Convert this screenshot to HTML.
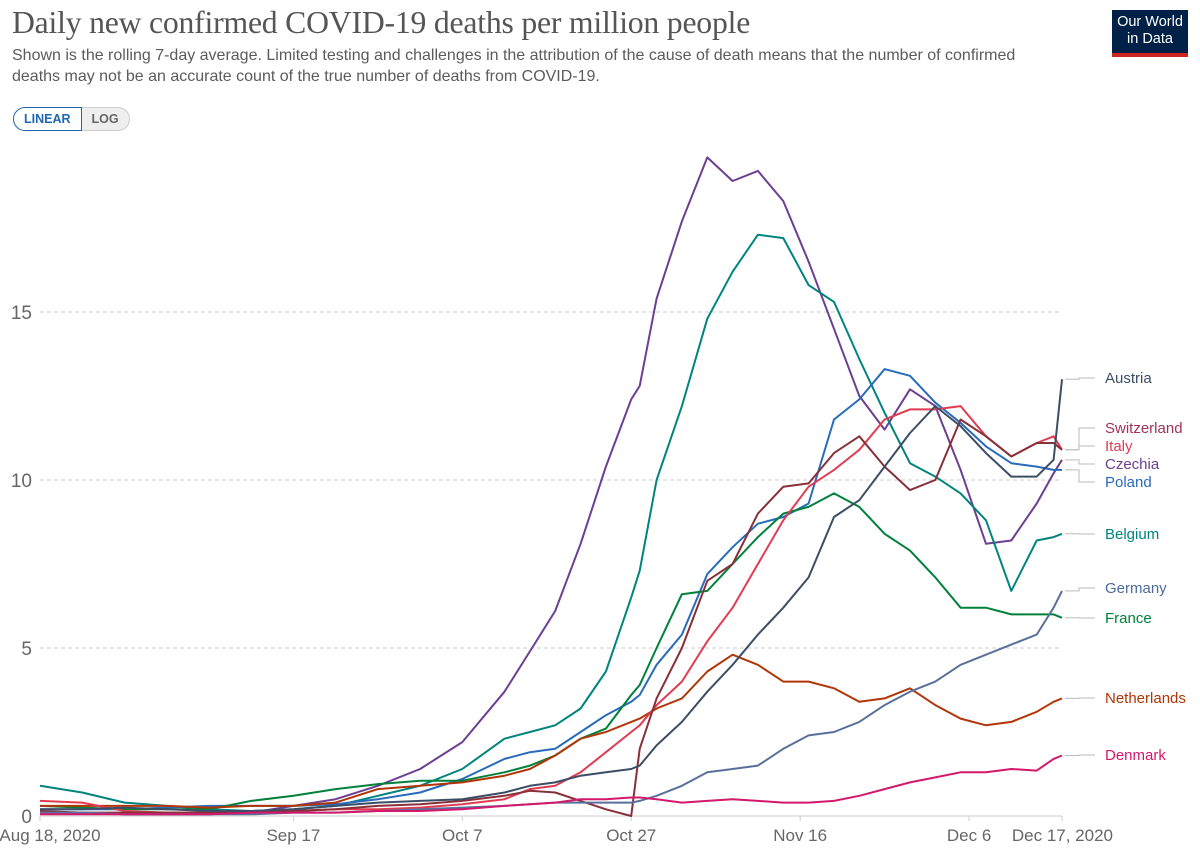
<!DOCTYPE html>
<html><head><meta charset="utf-8">
<style>
body{margin:0;background:#fff;width:1200px;height:862px;overflow:hidden;font-family:"Liberation Sans",sans-serif;position:relative}
#title{position:absolute;left:12px;top:5px;font-family:"Liberation Serif",serif;font-size:31.7px;color:#555;letter-spacing:-0.2px}
#sub{position:absolute;left:12px;top:45px;width:1015px;font-size:16px;line-height:21px;color:#5b5b5b}
#logo{position:absolute;left:1112px;top:10px;width:76px;height:47px;background:#002147;color:#fff;font-size:14.5px;line-height:17px;text-align:center;padding-top:4px;box-sizing:border-box;border-bottom:4px solid #ce261e}
#toggle{position:absolute;left:13px;top:107px;height:24px;display:flex;font-size:12.5px;font-weight:bold}
#toggle div{padding:0 10px;line-height:22px;border:1px solid #ccc}
#lin{color:#1d67b3;border:1.5px solid #1d67b3 !important;border-radius:12px 0 0 12px;background:#fff}
#log{color:#666;background:#eee;border-radius:0 12px 12px 0;border-left:none !important}
svg{position:absolute;left:0;top:0}
</style></head><body>
<div id="title">Daily new confirmed COVID-19 deaths per million people</div>
<div id="sub">Shown is the rolling 7-day average. Limited testing and challenges in the attribution of the cause of death means that the number of confirmed deaths may not be an accurate count of the true number of deaths from COVID-19.</div>
<div id="logo">Our World<br>in Data</div>
<div id="toggle"><div id="lin">LINEAR</div><div id="log">LOG</div></div>
<svg id="chart" width="1200" height="862"></svg>
<script>
const days=[0,5,10,15,20,25,30,35,40,45,50,55,58,61,64,67,70,71,73,76,79,82,85,88,91,94,97,100,103,106,109,112,115,118,120,121];
const xTicks=[0,30,50,70,90,110,121];
const xTickLabels=["Aug 18, 2020","Sep 17","Oct 7","Oct 27","Nov 16","Dec 6","Dec 17, 2020"];
const yTicks=[0,5,10,15];
const countries=["Czechia","Belgium","Poland","France","Netherlands","Italy","Switzerland","Austria","Germany","Denmark"];
const czechia=[0.1,0.1,0.05,0.05,0.05,0.1,0.3,0.5,0.9,1.4,2.2,3.7,4.9,6.1,8.1,10.4,12.4,12.8,15.4,17.7,19.6,18.9,19.2,18.3,16.5,14.5,12.5,11.5,12.7,12.2,10.3,8.1,8.2,9.3,10.2,10.6];
const belgium=[0.9,0.7,0.4,0.3,0.2,0.15,0.2,0.3,0.6,0.9,1.4,2.3,2.5,2.7,3.2,4.3,6.5,7.3,10.0,12.2,14.8,16.2,17.3,17.2,15.8,15.3,13.6,12.0,10.5,10.1,9.6,8.8,6.7,8.2,8.3,8.4];
const poland=[0.2,0.2,0.2,0.25,0.3,0.3,0.3,0.35,0.5,0.7,1.1,1.7,1.9,2.0,2.5,3.0,3.4,3.6,4.5,5.4,7.2,8.0,8.7,8.9,9.3,11.8,12.4,13.3,13.1,12.3,11.7,11.0,10.5,10.4,10.3,10.3];
const france=[0.3,0.25,0.2,0.2,0.2,0.45,0.6,0.8,0.95,1.05,1.05,1.3,1.5,1.8,2.3,2.6,3.6,3.9,5.0,6.6,6.7,7.5,8.3,9.0,9.2,9.6,9.2,8.4,7.9,7.1,6.2,6.2,6.0,6.0,6.0,5.9];
const netherlands=[0.3,0.3,0.3,0.3,0.25,0.3,0.3,0.4,0.8,0.9,1.0,1.2,1.4,1.8,2.3,2.5,2.8,2.9,3.2,3.5,4.3,4.8,4.5,4.0,4.0,3.8,3.4,3.5,3.8,3.3,2.9,2.7,2.8,3.1,3.4,3.5];
const italy=[0.45,0.4,0.15,0.1,0.1,0.1,0.15,0.2,0.2,0.25,0.35,0.5,0.8,0.9,1.3,1.9,2.5,2.7,3.3,4.0,5.2,6.2,7.5,8.8,9.8,10.3,10.9,11.8,12.1,12.1,12.2,11.3,10.7,11.1,11.3,10.9];
const switzerland=[0.15,0.1,0.1,0.1,0.1,0.1,0.15,0.2,0.3,0.35,0.45,0.6,0.75,0.7,0.45,0.2,0.0,2.0,3.5,5.0,7.0,7.5,9.0,9.8,9.9,10.8,11.3,10.4,9.7,10.0,11.8,11.3,10.7,11.1,11.1,10.9];
const austria=[0.2,0.2,0.25,0.2,0.15,0.15,0.2,0.3,0.4,0.45,0.5,0.7,0.9,1.0,1.2,1.3,1.4,1.5,2.1,2.8,3.7,4.5,5.4,6.2,7.1,8.9,9.4,10.4,11.4,12.2,11.6,10.8,10.1,10.1,10.6,13.0];
const germany=[0.1,0.1,0.05,0.05,0.05,0.05,0.1,0.1,0.15,0.2,0.25,0.3,0.35,0.4,0.4,0.4,0.4,0.45,0.6,0.9,1.3,1.4,1.5,2.0,2.4,2.5,2.8,3.3,3.7,4.0,4.5,4.8,5.1,5.4,6.2,6.7];
const denmark=[0.05,0.05,0.05,0.05,0.05,0.1,0.1,0.1,0.15,0.15,0.2,0.3,0.35,0.4,0.5,0.5,0.55,0.55,0.5,0.4,0.45,0.5,0.45,0.4,0.4,0.45,0.6,0.8,1.0,1.15,1.3,1.3,1.4,1.35,1.7,1.8];
const labelY=[464,534,482,618,698,446,428,378,588,755];

const series=[czechia,belgium,poland,france,netherlands,italy,switzerland,austria,germany,denmark];
const colors=["#6d3e91","#00847e","#286bbb","#00813b","#b13507","#e03c51","#883039","#3c4e66","#58709a","#d4186c"];
const labelColors=["#6d3e91","#00847e","#286bbb","#00813b","#b13507","#e03c51","#a2315b","#3c4e66","#4c6a9c","#d4186c"];
const NS="http://www.w3.org/2000/svg";
const svg=document.getElementById('chart');
const X0=40,X1=1062,DMAX=121,Y0=816,YS=33.6;
const xs=d=>X0+(X1-X0)*d/DMAX;
const ys=v=>Y0-v*YS;
function mk(tag,attrs){const e=document.createElementNS(NS,tag);for(const k in attrs)e.setAttribute(k,attrs[k]);svg.appendChild(e);return e;}
yTicks.forEach(t=>{
  if(t>0){const g=mk('line',{x1:X0,x2:X1,y1:ys(t),y2:ys(t),stroke:'#ccc','stroke-dasharray':'4,3'});
  
  }
  const l=mk('text',{x:32,y:ys(t)+7,'text-anchor':'end','font-size':19,fill:'#666','font-family':'Liberation Sans'});
  l.textContent=t;
  
  
});
const ax=mk('line',{x1:X0,x2:X1,y1:Y0,y2:Y0,stroke:'#ccc','stroke-width':1});


xTicks.forEach((d,i)=>{
  const tk=mk('line',{x1:xs(d),x2:xs(d),y1:Y0,y2:Y0+5,stroke:'#ccc'});
  
  
  let anchor='middle',x=xs(d);
  if(i===xTickLabels.length-1){anchor='end';x=1113;}
  if(i===0){x=xs(d)+10;}
  const t=mk('text',{x:x,y:841,'text-anchor':anchor,'font-size':17,fill:'#666','font-family':'Liberation Sans'});
  t.textContent=xTickLabels[i];
  
  
});
series.forEach((s,i)=>{
  const pts=s.map((v,j)=>xs(days[j]).toFixed(1)+','+ys(v).toFixed(1)).join(' ');
  const p=mk('polyline',{points:pts,fill:'none',stroke:colors[i],'stroke-width':2,'stroke-linejoin':'round'});
  
  
  const endY=ys(s[s.length-1]);
  const c=mk('polyline',{points:`${X1+3},${endY} ${X1+17},${endY} ${X1+17},${labelY[i]} ${X1+33},${labelY[i]}`,fill:'none',stroke:'#bbb','stroke-width':1});
  
  
  const t=mk('text',{x:1105,y:labelY[i]+5,'font-size':15,fill:labelColors[i],'font-family':'Liberation Sans'});
  t.textContent=countries[i];
  
  
});
</script>
</body></html>
